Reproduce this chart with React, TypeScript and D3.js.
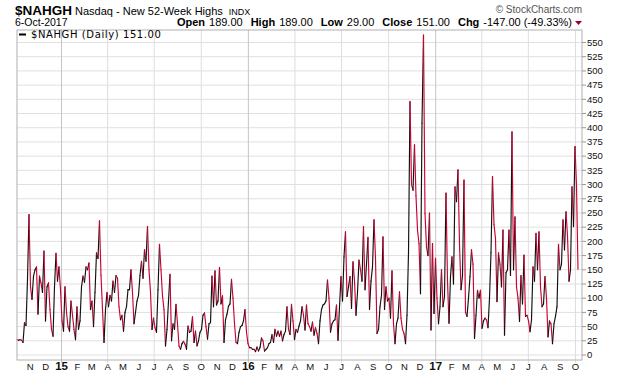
import React from "react";
import * as d3 from "d3";

// ---- data (one value every ~2 trading days) ----
const startDate = new Date(2014, 9, 6);
const endDate = new Date(2017, 9, 6);

const highs2014_2015a: number[] = [
  27, 26, 27, 26, 22, 57, 52, 133, 247, 120,
  98, 139, 150, 155, 72, 139, 127, 110, 183, 60,
  120, 127, 80, 45, 33, 120, 179, 130, 155, 115,
  60, 42, 120, 75, 50, 42, 95, 70, 45, 27,
  85, 45, 60, 120, 139, 128, 155, 150, 162, 80,
  95, 50, 110, 180, 170, 236, 140, 80, 22, 80,
  110, 85, 105, 95, 130, 110, 140, 135, 85, 62,
  70, 42, 75, 85, 115, 115, 150, 110, 55, 75,
  95, 105, 140, 165, 135, 185, 165, 226, 150, 110,
  45, 65, 48, 40, 115,
];
const highs2015b_2016a: number[] = [
  195, 150, 104, 80, 16, 45, 95, 142, 25, 55,
  45, 89, 55, 16, 10, 20, 24, 19, 10, 51,
  40, 42, 67, 22, 42, 16, 25, 40, 45, 70,
  74, 50, 28, 55, 57, 139, 85, 148, 88, 95,
  154, 90, 104, 22, 62, 72, 86, 90, 133, 100,
  55, 22, 20, 40, 50, 52, 60, 80, 40, 20,
  13, 13, 10, 10, 6, 14, 7, 13, 30, 25,
  7, 10, 13, 20, 22, 36, 22, 45, 33, 42,
  33, 42, 25, 36, 42, 85, 45, 36, 89, 60,
  27, 45, 40, 51,
];
const highs2016b: number[] = [
  60, 85, 70, 44, 88, 55, 50, 42, 58, 35,
  48, 38, 20, 60, 80, 88, 90, 95, 132, 100,
  40, 55, 60, 62, 88, 26, 85, 138, 95, 173,
  217, 103, 120, 138, 82, 164, 130, 70, 110, 167,
  150, 130, 226, 115, 160, 207, 80, 130, 155, 238,
  170, 38, 45, 85, 105, 208, 80, 120, 95, 100,
  65, 148, 55, 20, 55, 65, 111, 65, 45, 38,
  20, 70, 180, 446, 300, 290, 370, 280, 220, 196,
  108, 408, 563, 249, 190, 175, 250, 44, 196, 73,
  170, 100, 55, 85,
];
const highs2017: number[] = [
  150, 85, 103, 285, 130, 56, 138, 173, 125, 296,
  270, 326, 195, 115, 140, 308, 75, 68, 100, 138,
  185, 160, 29, 70, 114, 100, 114, 47, 60, 65,
  62, 48, 100, 180, 314, 230, 205, 94, 180, 160,
  120, 220, 35, 145, 150, 220, 140, 393, 150, 243,
  120, 100, 59, 140, 90, 176, 68, 70, 60, 41,
  62, 155, 130, 214, 150, 217, 120, 85, 90, 138,
  100, 32, 60, 55, 20, 55, 68, 85, 195, 150,
  160, 238, 185, 252, 210, 130, 150, 296, 226, 367,
  298, 151,
];
const values: number[] = [...highs2014_2015a, ...highs2015b_2016a, ...highs2016b, ...highs2017];

const yTicks: number[] = d3.range(0, 551, 25);
const monthLetters: string[] = ["J", "F", "M", "A", "M", "J", "J", "A", "S", "O", "N", "D"];

const headerStats: [string, string][] = [
  ["Open", "189.00"],
  ["High", "189.00"],
  ["Low", "29.00"],
  ["Close", "151.00"],
  ["Chg", "-147.00 (-49.33%)"],
];

const W = 620;
const H = 376;
const plot = { left: 17, right: 582, top: 30, bottom: 360 };

export default function App() {
  const span = endDate.getTime() - startDate.getTime();
  const dates = values.map(
    (_, i) => new Date(startDate.getTime() + (i * span) / (values.length - 1))
  );
  const x = d3.scaleTime().domain([startDate, endDate]).range([17, 578]);
  const y = d3.scaleLinear().domain([0, 550]).range([355, 42.5]);

  const months = d3.timeMonth.range(new Date(2014, 10, 1), new Date(2017, 10, 1));
  const quarters = months.filter((m) => m.getMonth() % 3 === 0);

  const font = "'Liberation Sans', Arial, sans-serif";
  const red = "#cc0033";

  const segs = [] as JSX.Element[];
  for (let i = 1; i < values.length; i++) {
    const up = values[i] >= values[i - 1];
    segs.push(
      <line
        key={i}
        x1={x(dates[i - 1])}
        y1={y(values[i - 1])}
        x2={x(dates[i])}
        y2={y(values[i])}
        stroke={up ? "#111" : red}
        strokeWidth={1.15}
        strokeLinecap="round"
      />
    );
  }

  return (
    <svg width={W} height={H} style={{ position: "absolute", left: 0, top: 0, background: "#fff" }}>
      <rect x={0} y={0} width={W} height={H} fill="#fff" />
      {/* header */}
      <text x={15} y={14.5} fontFamily={font} fill="#000">
        <tspan fontSize={13.5} fontWeight="bold">$NAHGH</tspan>
        <tspan fontSize={11} dx={3}>Nasdaq - New 52-Week Highs</tspan>
        <tspan fontSize={9} dx={6}>INDX</tspan>
      </text>
      <text x={582} y={13} fontFamily={font} fontSize={10} fill="#555" textAnchor="end">
        © StockCharts.com
      </text>
      <text x={15} y={26} fontFamily={font} fontSize={10.5} fill="#000">
        6-Oct-2017
      </text>
      <text x={572} y={26} fontFamily={font} fontSize={11} fill="#000" textAnchor="end">
        {headerStats.map(([k, v], i) => (
          <React.Fragment key={k}>
            <tspan fontWeight="bold" dx={i === 0 ? 0 : 8}>{k}</tspan>
            <tspan dx={4}>{v}</tspan>
          </React.Fragment>
        ))}
      </text>
      <path d="M575,21 L582,21 L578.5,25 Z" fill="#990033" />

      {/* grid */}
      {yTicks.map((t) => (
        <line key={"hg" + t} x1={plot.left} x2={plot.right} y1={y(t)} y2={y(t)} stroke="#e0e0e0" strokeWidth={1} />
      ))}
      {quarters.map((m) => (
        <line
          key={"vg" + m.getTime()}
          x1={x(m)}
          x2={x(m)}
          y1={plot.top}
          y2={plot.bottom + 3}
          stroke={m.getMonth() === 0 ? "#c4c4c4" : "#dedede"}
          strokeWidth={1}
        />
      ))}

      {/* series */}
      <g>{segs}</g>

      {/* frame */}
      <rect
        x={plot.left}
        y={plot.top}
        width={plot.right - plot.left}
        height={plot.bottom - plot.top}
        fill="none"
        stroke="#b0b0b0"
        strokeWidth={1}
      />

      {/* legend */}
      <line x1={19} x2={26} y1={34.5} y2={34.5} stroke="#000" strokeWidth={2} />
      <text x={31} y={38} fontFamily="'DejaVu Sans', Verdana, sans-serif" fontSize={10} letterSpacing={0.6} fill="#000">
        $NAHGH (Daily) 151.00
      </text>

      {/* y axis */}
      {yTicks.map((t) => (
        <g key={"yt" + t}>
          <line x1={plot.right} x2={plot.right + 4} y1={y(t)} y2={y(t)} stroke="#999" />
          <text x={587} y={y(t) + 3.3} fontFamily={font} fontSize={9.5} fill="#111">
            {t}
          </text>
        </g>
      ))}

      {/* x axis */}
      {months.map((m) => {
        const isYear = m.getMonth() === 0;
        return (
          <text
            key={"xl" + m.getTime()}
            x={x(m)}
            y={369.5}
            textAnchor="middle"
            fontFamily={font}
            fontSize={isYear ? 11.5 : 9.5}
            fontWeight={isYear ? "bold" : "normal"}
            fill="#111"
          >
            {isYear ? d3.timeFormat("%y")(m) : monthLetters[m.getMonth()]}
          </text>
        );
      })}
    </svg>
  );
}
